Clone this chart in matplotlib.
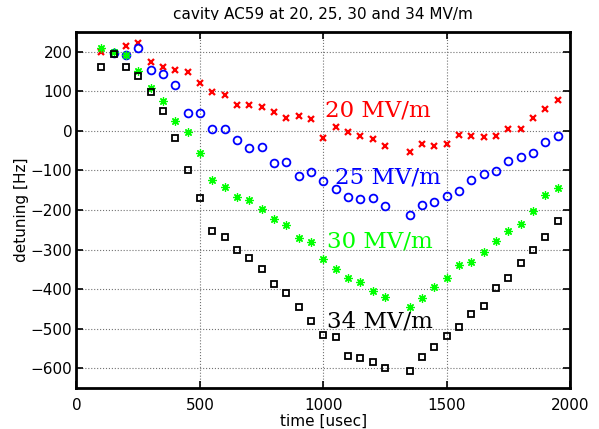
import numpy as np
import matplotlib
matplotlib.use('Agg')
import matplotlib.pyplot as plt
from matplotlib.patches import Rectangle

# time axis in usec (no sample at 1300)
time = [100, 150, 200, 250, 300, 350, 400, 450, 500, 550, 600, 650, 700, 750,
        800, 850, 900, 950, 1000, 1050, 1100, 1150, 1200, 1250,
        1350, 1400, 1450, 1500, 1550, 1600, 1650, 1700, 1750, 1800, 1850, 1900, 1950]

nan = np.nan
det_20 = [199, nan, 215, 222, 173, 162, 155, 148, 121, 98, 91, 66, 66, 60,
          47, 33, 37, 30, -18, 9, -3, -14, -21, -38,
          -54, -34, -37, -34, -10, -12, -16, -12, 5, 4, 33, 55, 78]
det_25 = [nan, 196, 192, 210, 154, 144, 116, 46, 46, 5, 4, -24, -44, -40,
          -80, -78, -114, -105, -126, -147, -168, -172, -170, -190,
          -212, -187, -179, -164, -151, -125, -109, -102, -77, -65, -56, -28, -12]
det_30 = [209, 200, 191, 151, 108, 76, 26, -3, -55, -124, -141, -166, -174, -197,
          -222, -238, -271, -282, -323, -348, -373, -383, -404, -419,
          -444, -423, -394, -371, -338, -331, -306, -278, -254, -235, -202, -163, -145]
det_34 = [162, 194, 161, 140, 98, 50, -18, -100, -170, -253, -269, -300, -322, -349,
          -386, -410, -444, -481, -515, -522, -568, -573, -584, -600,
          -608, -571, -547, -519, -497, -462, -442, -396, -372, -333, -300, -268, -228]

labels = ['20 MV/m', '25 MV/m', '30 MV/m', '34 MV/m']

plt.rcParams['font.family'] = 'DejaVu Sans'

fig = plt.figure(figsize=(5.99, 4.29), dpi=100)
ax = fig.add_axes([0.1277, 0.0956, 0.824, 0.8298])

ax.plot(time, det_20, linestyle='none', marker='x', color='#ff0000',
        markersize=4.5, markeredgewidth=1.6)
ax.plot(time, det_25, linestyle='none', marker='o', markerfacecolor='none',
        markeredgecolor='#0000ff', markersize=5.6, markeredgewidth=1.3)
ax.plot(time, det_30, linestyle='none', marker=(8, 2, 0), color='#00ff00',
        markersize=6, markeredgewidth=0.9)
ax.plot(time, det_34, linestyle='none', marker='s', markerfacecolor='none',
        markeredgecolor='black', markersize=4.0, markeredgewidth=1.3)

# curve labels
ax.text(1005, 36, labels[0], color='#ff0000', family='DejaVu Serif', fontsize=16.5)
ax.text(1049, -132, labels[1], color='#0000ff', family='DejaVu Serif', fontsize=16.5)
ax.text(1015, -296, labels[2], color='#00ff00', family='DejaVu Serif', fontsize=16.5)
ax.text(1015, -498, labels[3], color='black', family='DejaVu Serif', fontsize=16.5)

ax.set_xlim(0, 2000)
ax.set_ylim(-650, 250)
ax.set_xticks(range(0, 2001, 500))
ax.set_yticks(range(-600, 201, 100))
ax.grid(True, linestyle=':', color='0.45', linewidth=0.8)
ax.tick_params(direction='in', top=True, right=True, length=5, width=1.2,
               labelsize=11)
ax.tick_params(axis='x', pad=7)
ax.tick_params(axis='y', pad=3)
for s in ax.spines.values():
    s.set_linewidth(2)

ax.set_xlabel('time [usec]', fontsize=11, labelpad=1)
ax.set_ylabel('detuning [Hz]', fontsize=11, labelpad=1)
fig.text(0.539, 1 - 19 / 429, 'cavity AC59 at 20, 25, 30 and 34 MV/m',
         ha='center', va='baseline', fontsize=11)
# the original title has its descenders cut off
fig.patches.append(Rectangle((0.2, 1 - 30 / 429), 0.65, 10.5 / 429,
                             transform=fig.transFigure, facecolor='white',
                             edgecolor='none', zorder=5))

fig.savefig('out.png', dpi=100)
